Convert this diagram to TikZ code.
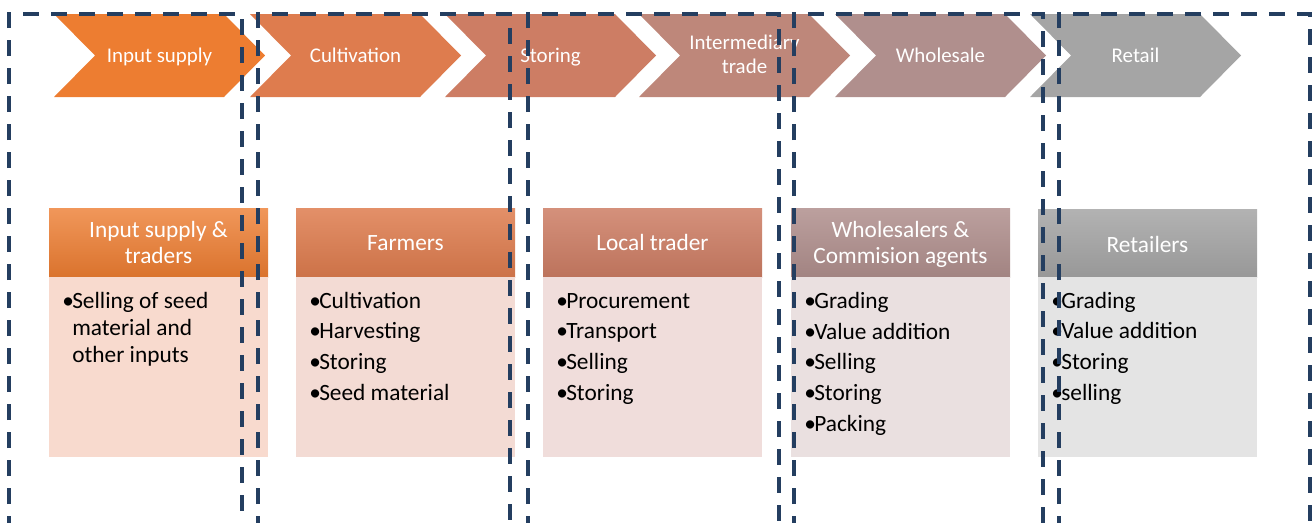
\documentclass[tikz,border=0pt]{standalone}
\usepackage{fontspec}
\setmainfont{Carlito}
\usepackage{tikz}

\definecolor{stageA}{RGB}{237,125,49}
\definecolor{stageB}{RGB}{222,124,78}
\definecolor{stageC}{RGB}{205,125,100}
\definecolor{stageD}{RGB}{190,135,122}
\definecolor{stageE}{RGB}{176,143,141}
\definecolor{stageF}{RGB}{165,165,165}
\definecolor{bodyA}{RGB}{248,218,206}
\definecolor{bodyB}{RGB}{243,219,212}
\definecolor{bodyC}{RGB}{240,221,219}
\definecolor{bodyE}{RGB}{234,224,224}
\definecolor{bodyF}{RGB}{228,228,228}
\definecolor{colline}{RGB}{36,62,96}

\def\chevron[#1](#2){\fill[#1] (#2,14) -- ++(170,0) -- ++(41,41.5) -- ++(-41,41.5) -- ++(-170,0) -- ++(41,-41.5) -- cycle;}
\newcommand{\bitem}[1]{\makebox[7.5pt][l]{\textbullet}#1}
\newcommand{\bcont}[1]{\hspace*{7.5pt}#1}

\tikzset{
	stagetext/.style={text=white, font=\fontsize{15.7}{17.5}\selectfont, align=center, inner sep=0pt, anchor=base},
	headtext/.style={text=white, font=\fontsize{17.5}{19.5}\selectfont, align=center, inner sep=0pt, anchor=base},
	listtext/.style={text=black, font=\fontsize{17.5}{20.25}\selectfont, align=left, inner sep=0pt, anchor=base west},
	column/.style={draw=colline, line width=2.6pt, dash pattern=on 12pt off 9pt},
}

\begin{document}
\begin{tikzpicture}[x=0.75pt, y=-0.75pt]
			%%%%% START %%%%%
			\useasboundingbox (0, 0) rectangle (1316, 522);
			\clip (0, 0) rectangle (1316, 522);
			
			\chevron[stageA](54)
			\chevron[stageB](250)
			\chevron[stageC](445)
			\chevron[stageD](639)
			\chevron[stageE](835)
			\chevron[stageF](1030)
			
			\node[stagetext] (input) at (159.5, 62) {Input supply};
			\node[stagetext] (cultivation) at (355.5, 62) {Cultivation};
			\node[stagetext] (storing) at (550.5, 62) {Storing};
			\node[stagetext] (intermediary) at (744.5, 73) {Intermediary\\trade};
			\node[stagetext] (wholesale) at (940.5, 62) {Wholesale};
			\node[stagetext] (retail) at (1135.5, 62) {Retail};
			
			\shade[top color=stageA!80!white, bottom color=stageA!92!black] (49, 208) rectangle (268, 277);
			\fill[bodyA] (49, 277) rectangle (268, 457);
			\shade[top color=stageB!85!white, bottom color=stageB!92!black] (296, 208) rectangle (515, 277);
			\fill[bodyB] (296, 277) rectangle (515, 457);
			\shade[top color=stageC!85!white, bottom color=stageC!92!black] (543, 208) rectangle (762, 277);
			\fill[bodyC] (543, 277) rectangle (762, 457);
			\shade[top color=stageE!85!white, bottom color=stageE!92!black] (791, 208) rectangle (1010, 277);
			\fill[bodyE] (791, 277) rectangle (1010, 457);
			\shade[top color=stageF!85!white, bottom color=stageF!92!black] (1038, 209) rectangle (1257, 277);
			\fill[bodyF] (1038, 277) rectangle (1257, 457);
			
			\node[headtext] (suppliers) at (158.5, 263) {Input supply \&\\traders};
			\node[headtext] (farmers) at (405.5, 250) {Farmers};
			\node[headtext] (localtrader) at (652.5, 250) {Local trader};
			\node[headtext] (wholesalers) at (900.5, 263) {Wholesalers \&\\Commision agents};
			\node[headtext] (retailers) at (1147.5, 252) {Retailers};
			
			\node[listtext] (supplierjobs) at (62, 362) {\bitem{Selling of seed}\\\bcont{material and}\\\bcont{other inputs}};
			\node[listtext] (farmerjobs) at (309, 400) {\bitem{Cultivation}\\[2.75pt]\bitem{Harvesting}\\[2.75pt]\bitem{Storing}\\[2.75pt]\bitem{Seed material}};
			\node[listtext] (traderjobs) at (556, 400) {\bitem{Procurement}\\[2.75pt]\bitem{Transport}\\[2.75pt]\bitem{Selling}\\[2.75pt]\bitem{Storing}};
			\node[listtext] (wholesalerjobs) at (804, 431) {\bitem{Grading}\\[2.75pt]\bitem{Value addition}\\[2.75pt]\bitem{Selling}\\[2.75pt]\bitem{Storing}\\[2.75pt]\bitem{Packing}};
			\node[listtext] (retailerjobs) at (1051, 400) {\bitem{Grading}\\[2.75pt]\bitem{Value addition}\\[2.75pt]\bitem{Storing}\\[2.75pt]\bitem{selling}};
			
			\draw[column] (9, 560) -- (9, 14) -- (242, 14) -- (242, 560);
			\draw[column] (258, 560) -- (258, 14) -- (510, 14) -- (510, 560);
			\draw[column] (528, 560) -- (528, 14) -- (779, 14) -- (779, 560);
			\draw[column] (794, 560) -- (794, 14) -- (1043, 14) -- (1043, 560);
			\draw[column] (1059, 560) -- (1059, 14) -- (1310, 14) -- (1310, 560);
			
			%%%%% END %%%%%
\end{tikzpicture}
\end{document}
